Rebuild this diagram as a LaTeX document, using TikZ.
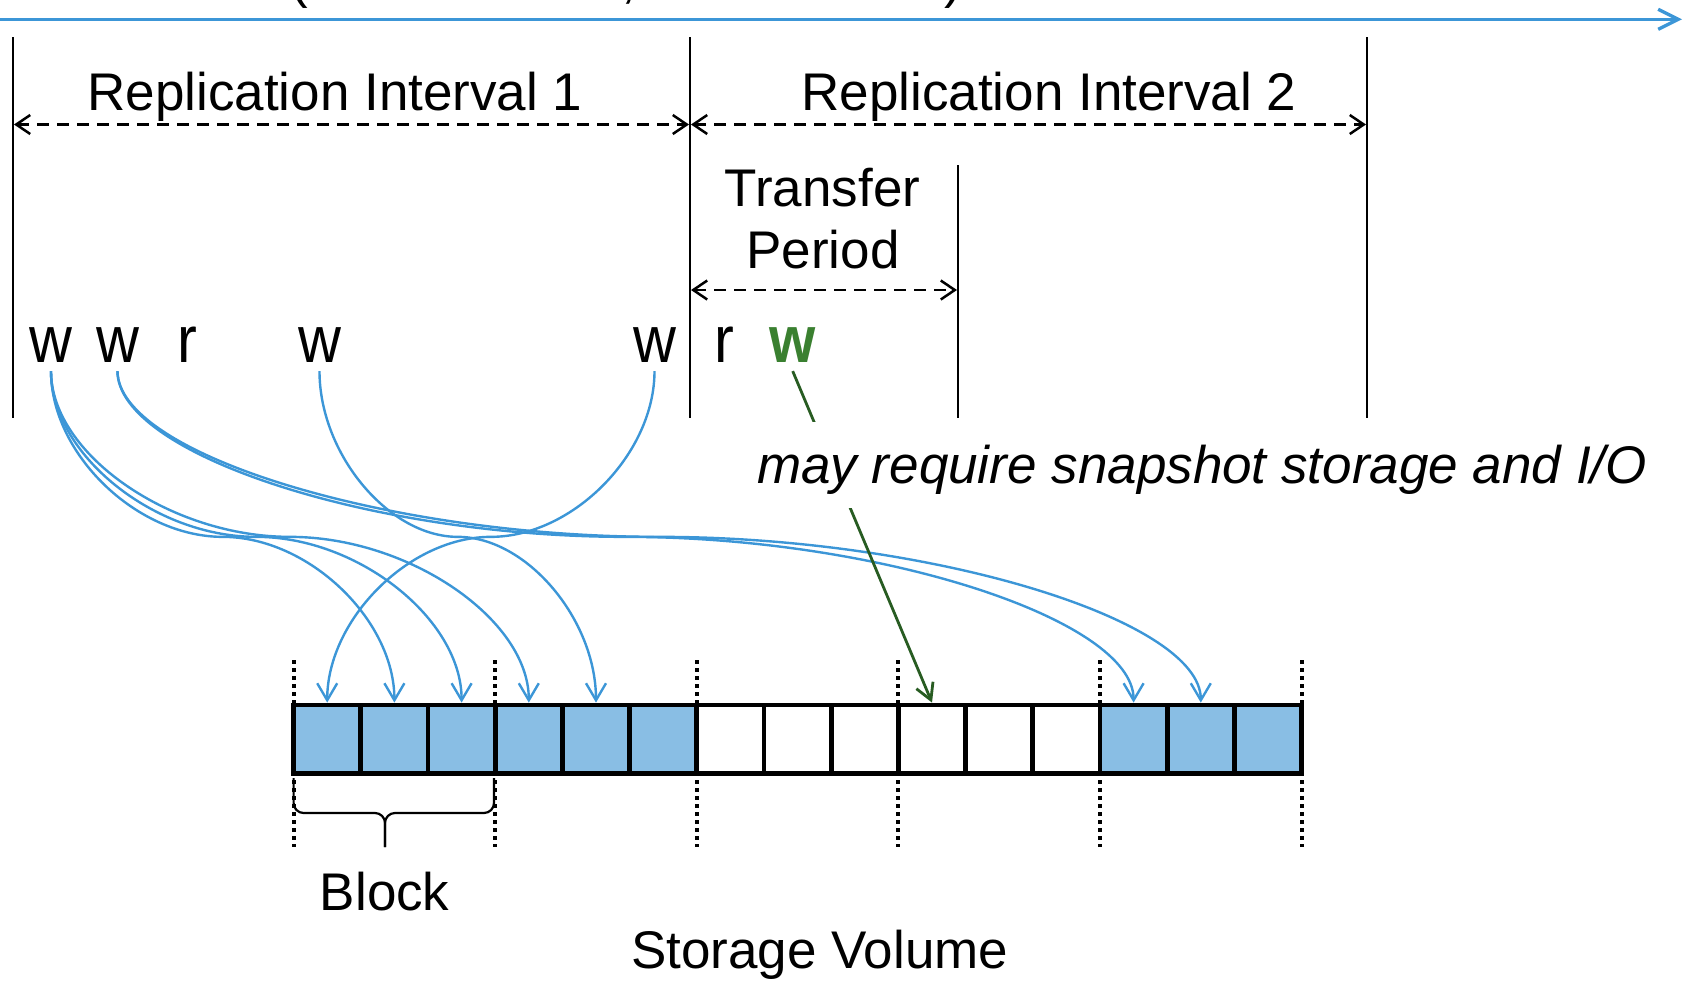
\documentclass[tikz,border=0pt]{standalone}
\usepackage{fontspec}
\setmainfont{Liberation Sans}
\usetikzlibrary{arrows.meta,calc}

\definecolor{timeblue}{RGB}{60,150,215}
\definecolor{cellblue}{RGB}{137,190,228}
\definecolor{writegreen}{RGB}{58,128,48}
\definecolor{pathgreen}{RGB}{40,92,34}

% slightly condensed operation letters
\newcommand\narrowop[1]{\scalebox{0.9}[1]{#1}}

% S-shaped connector: leaves vertically, horizontal half way, arrives vertically
\newcommand\curvelink[3][]{%
  \draw[wire,#1] let \p1=(#2), \p2=(#3) in
    (\p1) .. controls (\x1,{0.75*\y1+0.25*\y2}) and ({0.75*\x1+0.25*\x2},{0.5*\y1+0.5*\y2})
    .. ({0.5*\x1+0.5*\x2},{0.5*\y1+0.5*\y2})
    .. controls ({0.25*\x1+0.75*\x2},{0.5*\y1+0.5*\y2}) and (\x2,{0.25*\y1+0.75*\y2})
    .. (\p2);}

\tikzset{
  txt/.style={font=\fontsize{26.5pt}{30pt}\selectfont, inner sep=0pt, anchor=base},
  optxt/.style={font=\fontsize{33pt}{36pt}\selectfont, inner sep=0pt, anchor=base},
  ruler/.style={line width=1pt, black},
  interval/.style={line width=1.25pt, dash pattern=on 6pt off 4pt,
    {Straight Barb[length=7pt,width=9.5pt]}-{Straight Barb[length=7pt,width=9.5pt]}},
  timeline/.style={timeblue, line width=1.7pt, -{Straight Barb[length=10pt,width=10pt]}},
  wire/.style={timeblue, line width=1.2pt, -{Straight Barb[length=8.5pt,width=10pt]}},
  cell/.style={draw, line width=2.4pt, minimum width=33.6pt, minimum height=34.2pt, inner sep=0pt},
  boundary/.style={line width=2pt, dash pattern=on 2pt off 2pt},
  bracket/.style={line width=1.1pt, rounded corners=5pt},
}

\begin{document}
\begin{tikzpicture}[x=0.5pt,y=-0.5pt]
\useasboundingbox (0,0) rectangle (1699,981);

% time axis
\coordinate (t0) at (0,19.3);
\coordinate (t1) at (1682,19.3);
\draw[timeline] (t0) -- (t1);
\node[txt] (tpl) at (299.5,-3) {(};
\node[txt] (tcm) at (628.5,-3) {,};
\node[txt] (tpr) at (953,-3) {)};

% interval boundaries
\coordinate (b1t) at (13,37);    \coordinate (b1b) at (13,418);
\coordinate (b2t) at (690,37);   \coordinate (b2b) at (690,418);
\coordinate (b3t) at (1367,37);  \coordinate (b3b) at (1367,418);
\coordinate (tpt) at (958,165);  \coordinate (tpb) at (958,418);
\draw[ruler] (b1t) -- (b1b);
\draw[ruler] (b2t) -- (b2b);
\draw[ruler] (b3t) -- (b3b);
\draw[ruler] (tpt) -- (tpb);

% interval spans
\coordinate (r1l) at (14,124.5);  \coordinate (r1r) at (689,124.5);
\coordinate (r2l) at (691,124.5); \coordinate (r2r) at (1366,124.5);
\coordinate (xfl) at (691,290);   \coordinate (xfr) at (957,290);
\draw[interval] (r1l) -- (r1r);
\draw[interval] (r2l) -- (r2r);
\draw[interval] (xfl) -- (xfr);

\node[txt] (ri1) at (335,110) {Replication Interval 1};
\node[txt] (ri2) at (1049,110) {Replication Interval 2};
\node[txt] (tf1) at (822.5,206) {Transfer};
\node[txt] (tf2) at (823,268) {Period};

% operations
\node[optxt] (w1) at (51,362.7) {\narrowop{w}};
\node[optxt] (w2) at (117.5,362.7) {\narrowop{w}};
\node[optxt] (r1) at (187,362.7) {\narrowop{r}};
\node[optxt] (w3) at (319.5,362.7) {\narrowop{w}};
\node[optxt] (w4) at (654.5,362.7) {\narrowop{w}};
\node[optxt] (r2) at (724,362.7) {\narrowop{r}};
\node[optxt, text=writegreen] (gw) at (792.7,362.7) {\narrowop{\bfseries w}};

% storage volume: block boundaries and cells
\foreach \k in {0,3,...,15}
  \draw[boundary] ({293.6+67.2*\k},660) -- ({293.6+67.2*\k},847);
\foreach \i in {1,...,15}{
  \ifnum\i<7 \def\cellfill{cellblue}\else
    \ifnum\i>12 \def\cellfill{cellblue}\else \def\cellfill{white}\fi\fi
  \node[cell, fill=\cellfill] (c\i) at ({293.6+67.2*(\i-0.5)},739.2) {};
}

% writes landing in the volume
\curvelink{[yshift=-4pt]w1.south}{c2.north}
\curvelink{[yshift=-4pt]w1.south}{c3.north}
\curvelink{[yshift=-4pt]w1.south}{c4.north}
\curvelink{[yshift=-4pt]w2.south}{c13.north}
\curvelink{[yshift=-4pt]w2.south}{c14.north}
\curvelink{[yshift=-4pt]w3.south}{c5.north}
\curvelink{[yshift=-4pt]w4.south}{c1.north}

% write during the transfer period
\draw[pathgreen, line width=1.4pt, -{Straight Barb[length=8pt,width=9pt]}]
  ([yshift=-4pt]gw.south) -- (c10.north);
\node[txt, fill=white, font=\fontsize{26.5pt}{30pt}\selectfont\itshape,
  text height=30.5pt, text depth=12.5pt, inner xsep=2pt] (note) at (1202,483)
  {may require snapshot storage and I/O};

% block brace
\coordinate (bkl) at (293.6,778);
\coordinate (bkr) at (494,778);
\coordinate (bkm) at (385,813);
\coordinate (bkt) at (385,847);
\draw[bracket] (bkl) |- (bkm) -- (bkt);
\draw[bracket] (bkr) |- (bkm) -- (bkt);
\node[txt] (blk) at (384.7,910) {Block};
\node[txt] (vol) at (819.6,968) {Storage Volume};
\end{tikzpicture}
\end{document}
